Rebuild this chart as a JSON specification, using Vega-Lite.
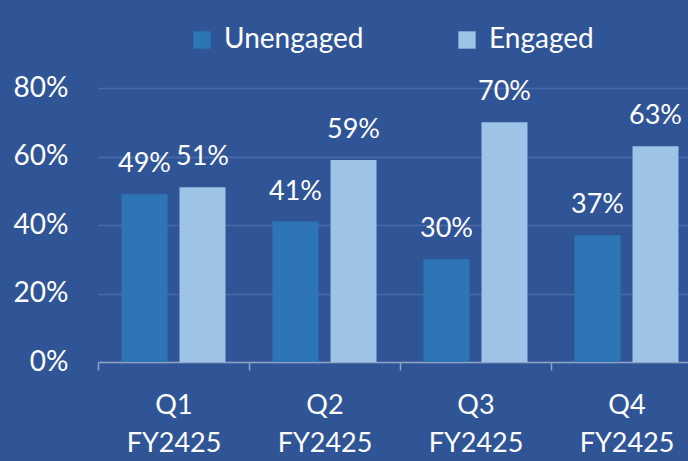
{
  "$schema": "https://vega.github.io/schema/vega-lite/v6.json",
  "width": 590,
  "height": 274,
  "autosize": "none",
  "padding": {"left": 98, "top": 88, "right": 0, "bottom": 99},
  "background": "#2F5597",
  "config": {
    "view": {"stroke": null},
    "font": "Lato"
  },
  "data": {
    "values": [
      {"quarter": "Q1 FY2425", "status": "Unengaged", "value": 0.49},
      {"quarter": "Q1 FY2425", "status": "Engaged", "value": 0.51},
      {"quarter": "Q2 FY2425", "status": "Unengaged", "value": 0.41},
      {"quarter": "Q2 FY2425", "status": "Engaged", "value": 0.59},
      {"quarter": "Q3 FY2425", "status": "Unengaged", "value": 0.30},
      {"quarter": "Q3 FY2425", "status": "Engaged", "value": 0.70},
      {"quarter": "Q4 FY2425", "status": "Unengaged", "value": 0.37},
      {"quarter": "Q4 FY2425", "status": "Engaged", "value": 0.63}
    ]
  },
  "encoding": {
    "x": {
      "field": "quarter",
      "type": "nominal",
      "sort": null,
      "scale": {"range": [0, 604], "paddingInner": 0, "paddingOuter": 0},
      "axis": {
        "title": null,
        "labelAngle": 0,
        "labelExpr": "split(datum.label, ' ')",
        "labelLineHeight": 38,
        "labelFontSize": 27,
        "labelColor": "#FFFFFF",
        "labelPadding": 22,
        "labelBaseline": "top",
        "domainColor": "#8FA3C7",
        "domainWidth": 1.5,
        "tickColor": "#8FA3C7",
        "tickWidth": 1.5,
        "tickSize": 8,
        "tickBand": "extent",
        "grid": false
      }
    },
    "xOffset": {
      "field": "status",
      "type": "nominal",
      "sort": ["Unengaged", "Engaged"],
      "scale": {"paddingInner": 0.207, "paddingOuter": 0.405}
    },
    "y": {
      "field": "value",
      "type": "quantitative",
      "scale": {"domain": [0, 0.8]},
      "axis": {
        "title": null,
        "format": ".0%",
        "values": [0, 0.2, 0.4, 0.6, 0.8],
        "labelFontSize": 28,
        "labelColor": "#FFFFFF",
        "labelPadding": 30,
        "domain": false,
        "ticks": false,
        "gridColor": "#4B6BA6",
        "gridWidth": 1.5
      }
    }
  },
  "layer": [
    {
      "mark": {"type": "bar"},
      "encoding": {
        "color": {
          "field": "status",
          "type": "nominal",
          "sort": ["Unengaged", "Engaged"],
          "scale": {"domain": ["Unengaged", "Engaged"], "range": ["#2E75B6", "#9DC3E6"]},
          "legend": {
            "title": null,
            "orient": "none",
            "direction": "horizontal",
            "legendX": 90,
            "legendY": -62,
            "symbolType": "square",
            "symbolSize": 300,
            "symbolStrokeWidth": 0,
            "symbolOpacity": 1,
            "labelFontSize": 28,
            "labelColor": "#FFFFFF",
            "labelOffset": 8,
            "columnPadding": 89,
            "labelLimit": 300
          }
        }
      }
    },
    {
      "mark": {"type": "text", "fontSize": 27, "color": "#FFFFFF", "baseline": "alphabetic", "dy": -22},
      "encoding": {
        "text": {"field": "value", "type": "quantitative", "format": ".0%"}
      }
    }
  ]
}
